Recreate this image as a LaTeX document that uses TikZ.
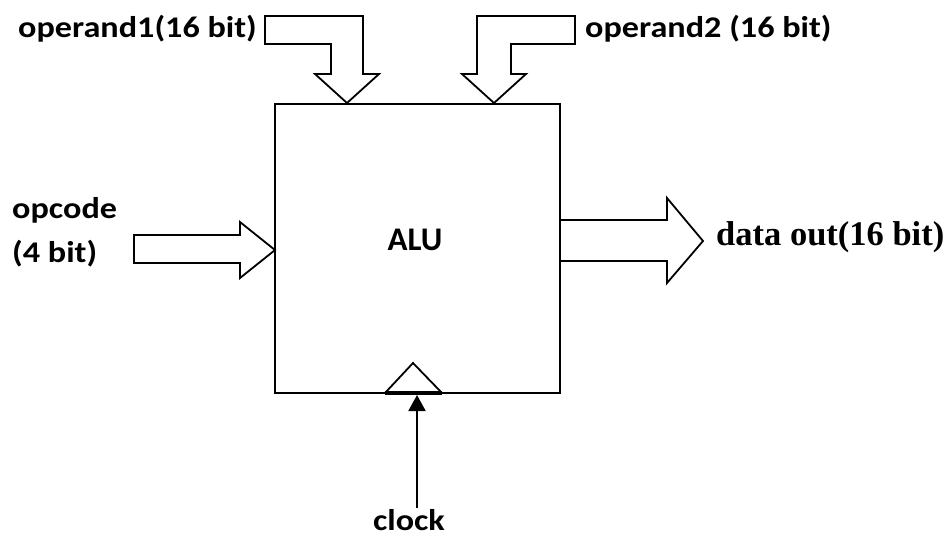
\documentclass[tikz,border=0pt]{standalone}
\usepackage{fontspec}
\setmainfont{Carlito}
\newfontfamily\lblfont[FakeStretch=1.14]{Carlito}
\newfontfamily\serifbold{Liberation Serif}
\usetikzlibrary{arrows.meta}
\begin{document}
\begin{tikzpicture}[x=1pt,y=-1pt,line join=miter,
  blk/.style={draw=black,line width=1.8pt,fill=white},
  lbl/.style={font=\lblfont\bfseries\fontsize{30}{40}\selectfont,inner sep=0pt,text=black}]
\useasboundingbox (0,0) rectangle (951,539);
% ALU box
\node[draw,line width=2pt,minimum width=285pt,minimum height=289pt,inner sep=0pt] (alu) at (417.5,248.5) {};
\node[lbl,anchor=base,font=\bfseries\fontsize{33}{40}\selectfont] (alutext) at (415,250) {ALU};
% operand1 bent arrow
\coordinate (op1tip) at (347,103);
\draw[blk] (265,16) -- (363,16) -- (363,74) -- (379,74) -- (op1tip) -- (315,74) -- (331,74) -- (331,44) -- (265,44) -- cycle;
% operand2 bent arrow
\coordinate (op2tip) at (494,103);
\draw[blk] (575,16) -- (477,16) -- (477,74) -- (462,74) -- (op2tip) -- (526,74) -- (511,74) -- (511,44) -- (575,44) -- cycle;
% opcode arrow
\coordinate (opctip) at (275,250);
\draw[blk] (134,235) -- (240,235) -- (240,222) -- (opctip) -- (240,278) -- (240,263) -- (134,263) -- cycle;
% data out arrow
\coordinate (outtip) at (703,241);
\draw[blk] (560,220) -- (667,220) -- (667,198) -- (outtip) -- (667,283) -- (667,261) -- (560,261) -- cycle;
% clock triangle
\coordinate (clkL) at (385,393);
\coordinate (clkR) at (442,393);
\coordinate (clkT) at (413,363);
\draw[line width=1.8pt] (clkL) -- (clkT) -- (clkR);
\draw[line width=3.5pt] (clkL) -- (clkR);
\coordinate (clkin) at (417,395);
\coordinate (clkfoot) at (417,508);
\node[lbl,anchor=base] (clock) at (409,530) {clock};
\draw[line width=2pt,-{Triangle[length=16pt,width=17pt]}] (clkfoot) -- (clkin);
% labels
\node[lbl,anchor=base east] (op1) at (257,37) {operand1(16 bit)};
\node[lbl,anchor=base west] (op2) at (585,37) {operand2 (16 bit)};
\node[lbl,anchor=base west] (opc) at (12,218) {opcode};
\node[lbl,anchor=base west] (opc2) at (12,262) {(4 bit)};
\node[lbl,anchor=base west,font=\serifbold\bfseries\fontsize{34.5}{40}\selectfont] (dout) at (716,245) {data out(16 bit)};
\end{tikzpicture}
\end{document}
